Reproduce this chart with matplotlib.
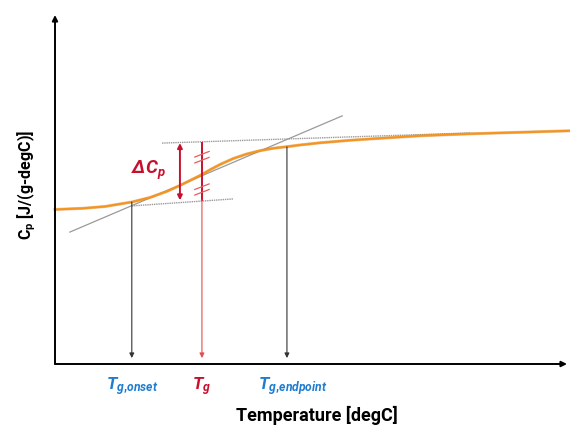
import matplotlib
matplotlib.use("Agg")
import matplotlib.pyplot as plt

plt.rcParams["font.family"] = ["Roboto", "DejaVu Sans"]
plt.rcParams["mathtext.fontset"] = "custom"
plt.rcParams["mathtext.rm"] = "Roboto:bold"
plt.rcParams["mathtext.it"] = "Roboto:italic:bold"
plt.rcParams["mathtext.bf"] = "Roboto:bold"

# Cp curve (arbitrary units, axes run 0..100)
temp = [0, 5.47, 9.77, 12.70, 15.04, 18.55, 21.80, 24.41, 26.37, 28.32, 30.27,
        32.23, 34.83, 37.44, 40.04, 42.64, 45.25, 47.85, 51.76, 57.62, 63.48,
        71.29, 81.05, 90.82, 100.59]
cp = [44.27, 44.61, 45.13, 45.85, 46.42, 47.71, 49.43, 51.15, 52.58, 54.01,
      55.64, 57.16, 58.88, 60.17, 61.12, 61.81, 62.26, 62.75, 63.38, 64.10,
      64.67, 65.39, 65.96, 66.39, 66.82]

# construction lines
lower_base_t = [15.0, 34.8]
lower_base_cp = [45.3, 47.3]
tangent_t = [2.9, 56.1]
tangent_cp = [37.8, 71.1]
upper_base_t = [20.9, 81.1]
upper_base_cp = [63.3, 66.2]

t_onset, cp_onset = 15.0, 46.4
t_g, cp_g_top, cp_g_low = 28.7, 63.3, 47.0
t_end, cp_end = 45.3, 62.2
t_delta, cp_delta_hi, cp_delta_lo = 24.4, 63.3, 46.9
hash_cp = [60.1, 58.4, 50.8, 49.2]
arrow_floor = 1.7

ORANGE = "#f7941d"
RED = "#c8102e"
BLUE = "#1f7dd0"
GREY = "#9a9a9a"

fig = plt.figure(figsize=(5.7, 4.25), dpi=100)
ax = fig.add_axes([55 / 570, 61 / 425, 512 / 570, 349 / 425])
ax.set_xlim(0, 100)
ax.set_ylim(0, 100)
for s in ax.spines.values():
    s.set_visible(False)
ax.set_xticks([])
ax.set_yticks([])

# axes with arrow heads
ax.annotate("", xy=(0, 100), xytext=(0, 0),
            arrowprops=dict(arrowstyle="-|>", color="black", lw=1.4,
                            mutation_scale=8, shrinkA=0, shrinkB=0))
ax.annotate("", xy=(100, 0), xytext=(0, 0),
            arrowprops=dict(arrowstyle="-|>", color="black", lw=1.4,
                            mutation_scale=8, shrinkA=0, shrinkB=0))

# construction lines
ax.plot(tangent_t, tangent_cp, color=GREY, lw=0.9)
ax.plot(lower_base_t, lower_base_cp, color=GREY, lw=1.0, ls=(0, (1, 0.6)))
ax.plot(upper_base_t, upper_base_cp, color=GREY, lw=1.0, ls=(0, (1, 0.6)))

# the curve
ax.plot(temp, cp, color="#c87a20", lw=2.2, alpha=0.45, clip_on=False,
        solid_joinstyle="round")
ax.plot(temp, cp, color=ORANGE, lw=1.5, clip_on=False, solid_joinstyle="round")

# vertical drop lines to the T axis
for t, top in [(t_onset, cp_onset), (t_end, cp_end)]:
    ax.annotate("", xy=(t, arrow_floor), xytext=(t, top),
                arrowprops=dict(arrowstyle="-|>", color="#333333", lw=0.8,
                                mutation_scale=7, shrinkA=0, shrinkB=0))
ax.plot([t_g, t_g], [cp_g_top, cp_g_low], color=RED, lw=1.4)
ax.annotate("", xy=(t_g, arrow_floor), xytext=(t_g, cp_g_low),
            arrowprops=dict(arrowstyle="-|>", color="#e05050", lw=0.8,
                            mutation_scale=7, shrinkA=0, shrinkB=0))

# hash marks on the Tg line
for c in hash_cp:
    ax.plot([t_g - 1.4, t_g + 1.4], [c - 0.8, c + 0.8], color="#e06060", lw=0.9)

# delta Cp double arrow
ax.annotate("", xy=(t_delta, cp_delta_hi), xytext=(t_delta, cp_delta_lo),
            arrowprops=dict(arrowstyle="<|-|>", color=RED, lw=1.4,
                            mutation_scale=7, shrinkA=0, shrinkB=0))
ax.text(21.6, 55.6, r"ΔC$_\mathit{p}$", color=RED, fontsize=13.5,
        fontstyle="italic", fontweight="bold", ha="right", va="center")

# T labels under the axis
lab = dict(fontsize=12.5, fontstyle="italic", fontweight="bold",
           ha="center", va="center", clip_on=False)
ax.text(t_onset, -6.5, r"T$_{g,\!onset}$", color=BLUE, **lab)
ax.text(t_g, -6.5, r"T$_g$", color=RED, **lab)
ax.text(t_end + 1.2, -6.5, r"T$_{g,\!endpoint}$", color=BLUE, **lab)

fig.text(317 / 570, 1 - 415 / 425, "Temperature [degC]", fontsize=13,
         fontweight="bold", ha="center", va="center")
fig.text(27 / 570, 1 - 185 / 425, r"C$_\mathrm{p}$ [J/(g-degC)]", fontsize=11.5,
         fontweight="bold", rotation=90, ha="center", va="center")

fig.savefig("out.png", dpi=100, facecolor="white")
